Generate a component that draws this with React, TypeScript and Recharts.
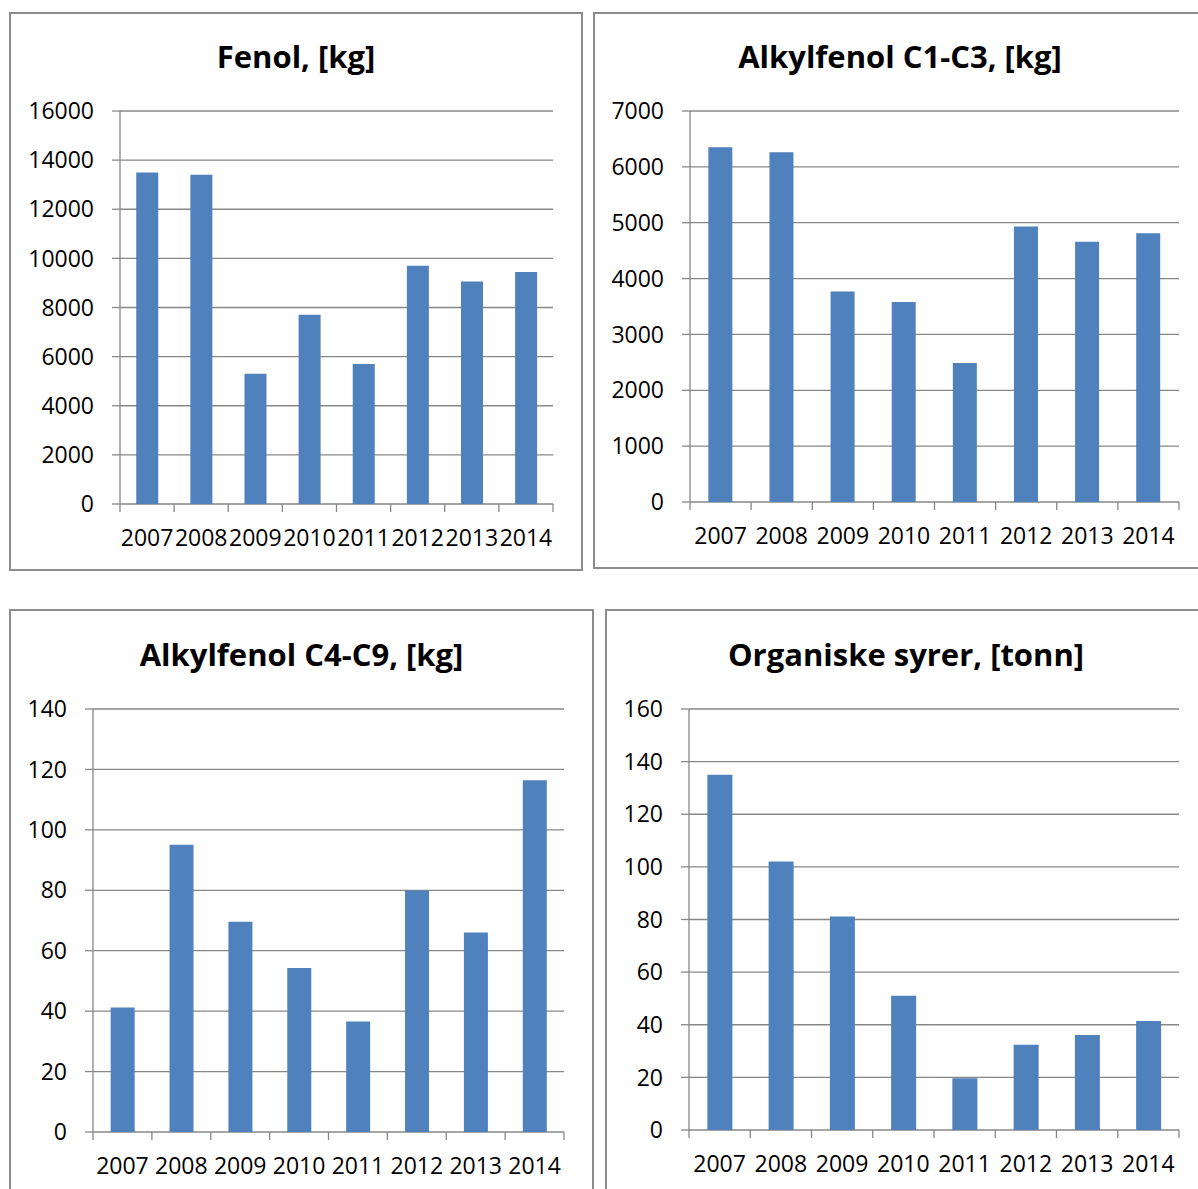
import React from 'react';
import { BarChart, Bar, XAxis, YAxis, CartesianGrid } from 'recharts';

const years = ['2007', '2008', '2009', '2010', '2011', '2012', '2013', '2014'];

const fenolKg = [13500, 13400, 5300, 7700, 5700, 9700, 9060, 9450];
const alkylC1C3Kg = [6350, 6260, 3770, 3580, 2490, 4930, 4660, 4810];
const alkylC4C9Kg = [41.2, 95.1, 69.6, 54.3, 36.6, 79.9, 66.0, 116.4];
const organiskeTonn = [135, 102, 81.1, 51, 19.7, 32.4, 36.1, 41.4];

const fenolTicks = [0, 2000, 4000, 6000, 8000, 10000, 12000, 14000, 16000];
const c1c3Ticks = [0, 1000, 2000, 3000, 4000, 5000, 6000, 7000];
const c4c9Ticks = [0, 20, 40, 60, 80, 100, 120, 140];
const organiskeTicks = [0, 20, 40, 60, 80, 100, 120, 140, 160];

const GRID = '#878787';
const BAR = '#4F81BD';
const FONT = "'Open Sans', sans-serif";
const LABEL_SIZE = 23;
const X_AXIS_H = 50;

type Box = { x: number; y: number; w: number; h: number };
type Plot = { left: number; top: number; right: number; bottom: number };

interface PanelProps {
    title: string;
    titleY: number;
    values: number[];
    ticks: number[];
    box: Box;
    plot: Plot;
}

const Panel: React.FC<PanelProps> = ({ title, titleY, values, ticks, box, plot }) => {
    const data = years.map((year, i) => ({ year, value: values[i] }));
    const band = (plot.right - plot.left) / years.length;
    const margin = {
        top: plot.top - box.y,
        right: box.x + box.w - plot.right,
        left: 0,
        bottom: box.y + box.h - plot.bottom - X_AXIS_H,
    };

    // Excel-style category ticks sit on the band edges, labels in the middle
    const renderTick = (props: any) => {
        const { x, y, payload, index } = props;
        return (
            <g>
                <line x1={x - band / 2} x2={x - band / 2} y1={y} y2={y + 8} stroke={GRID} strokeWidth={1.3} />
                {index === years.length - 1 && (
                    <line x1={x + band / 2} x2={x + band / 2} y1={y} y2={y + 8} stroke={GRID} strokeWidth={1.3} />
                )}
                <text x={x} y={y + 34 + 0.357 * LABEL_SIZE} textAnchor="middle" fontSize={LABEL_SIZE} fill="#000">
                    {payload.value}
                </text>
            </g>
        );
    };

    return (
        <>
            <div
                style={{
                    position: 'absolute',
                    left: box.x,
                    top: box.y,
                    width: box.w,
                    height: box.h,
                    border: '2px solid #8c8c8c',
                    boxSizing: 'border-box',
                }}
            />
            <div
                style={{
                    position: 'absolute',
                    left: box.x,
                    width: box.w,
                    top: titleY - 21,
                    lineHeight: '40px',
                    textAlign: 'center',
                    fontSize: 31,
                    fontWeight: 700,
                    color: '#000',
                }}
            >
                {title}
            </div>
            <div style={{ position: 'absolute', left: box.x, top: box.y }}>
                <BarChart width={box.w} height={box.h} data={data} margin={margin} barCategoryGap="30%">
                    <CartesianGrid vertical={false} stroke={GRID} strokeWidth={1.3} />
                    <XAxis
                        dataKey="year"
                        height={X_AXIS_H}
                        axisLine={false}
                        tickLine={false}
                        tickSize={0}
                        tickMargin={0}
                        interval={0}
                        tick={renderTick}
                    />
                    <YAxis
                        type="number"
                        width={plot.left - box.x}
                        domain={[ticks[0], ticks[ticks.length - 1]]}
                        ticks={ticks}
                        interval={0}
                        axisLine={{ stroke: GRID, strokeWidth: 1.3 }}
                        tickLine={{ stroke: GRID, strokeWidth: 1.3 }}
                        tickSize={8}
                        tickMargin={18}
                        tick={{ fill: '#000', fontSize: LABEL_SIZE }}
                    />
                    <Bar dataKey="value" fill={BAR} isAnimationActive={false} />
                </BarChart>
            </div>
        </>
    );
};

export default function App() {
    return (
        <div
            style={{
                position: 'absolute',
                left: 0,
                top: 0,
                width: 1198,
                height: 1189,
                overflow: 'hidden',
                background: '#fff',
                fontFamily: FONT,
            }}
        >
            <Panel
                title="Fenol, [kg]"
                titleY={57}
                values={fenolKg}
                ticks={fenolTicks}
                box={{ x: 9, y: 12, w: 574, h: 559 }}
                plot={{ left: 120, top: 111, right: 553, bottom: 504 }}
            />
            <Panel
                title="Alkylfenol C1-C3, [kg]"
                titleY={57}
                values={alkylC1C3Kg}
                ticks={c1c3Ticks}
                box={{ x: 593, y: 12, w: 614, h: 557 }}
                plot={{ left: 690, top: 111, right: 1179, bottom: 502 }}
            />
            <Panel
                title="Alkylfenol C4-C9, [kg]"
                titleY={655}
                values={alkylC4C9Kg}
                ticks={c4c9Ticks}
                box={{ x: 9, y: 609, w: 585, h: 600 }}
                plot={{ left: 93, top: 709, right: 564, bottom: 1132 }}
            />
            <Panel
                title="Organiske syrer, [tonn]"
                titleY={655}
                values={organiskeTonn}
                ticks={organiskeTicks}
                box={{ x: 605, y: 609, w: 602, h: 600 }}
                plot={{ left: 689, top: 709, right: 1179, bottom: 1130 }}
            />
        </div>
    );
}
